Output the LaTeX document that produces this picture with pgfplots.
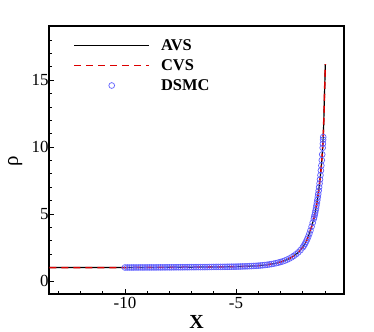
\documentclass[border=0pt]{standalone}
\usepackage{fontspec}
\setmainfont{Liberation Serif}
\usepackage{pgfplots}
\usepackage{pgfplotstable}
\pgfplotsset{compat=1.18}

\definecolor{cvsred}{RGB}{220,0,0}
\definecolor{dsmcblue}{RGB}{95,95,255}

% DSMC samples
\pgfplotstableread{
x y
-10.0 1.000
-9.9 1.001
-9.8 1.001
-9.7 1.002
-9.6 1.002
-9.5 1.003
-9.4 1.003
-9.3 1.004
-9.2 1.004
-9.1 1.005
-9.0 1.005
-8.9 1.006
-8.8 1.006
-8.7 1.007
-8.6 1.008
-8.5 1.008
-8.4 1.009
-8.3 1.010
-8.2 1.011
-8.1 1.012
-8.0 1.013
-7.9 1.014
-7.8 1.015
-7.7 1.016
-7.6 1.017
-7.5 1.018
-7.4 1.019
-7.3 1.020
-7.2 1.021
-7.1 1.023
-7.0 1.024
-6.9 1.025
-6.8 1.027
-6.7 1.028
-6.6 1.030
-6.5 1.031
-6.4 1.033
-6.3 1.035
-6.2 1.037
-6.1 1.039
-6.0 1.041
-5.9 1.043
-5.8 1.045
-5.7 1.047
-5.6 1.050
-5.5 1.052
-5.4 1.055
-5.3 1.058
-5.2 1.061
-5.1 1.064
-5.0 1.067
-4.9 1.071
-4.8 1.075
-4.7 1.080
-4.6 1.085
-4.5 1.091
-4.4 1.098
-4.3 1.106
-4.2 1.115
-4.1 1.126
-4.0 1.138
-3.9 1.152
-3.8 1.168
-3.7 1.186
-3.6 1.207
-3.5 1.231
-3.4 1.258
-3.3 1.289
-3.2 1.324
-3.1 1.364
-3.0 1.41
-2.9 1.46
-2.8 1.52
-2.7 1.59
-2.6 1.67
-2.5 1.76
-2.4 1.87
-2.3 1.99
-2.2 2.13
-2.1 2.30
-2.0 2.50
-1.95 2.62
-1.90 2.76
-1.85 2.92
-1.80 3.10
-1.75 3.30
-1.70 3.52
-1.65 3.77
-1.60 4.05
-1.55 4.34
-1.50 4.64
-1.48 4.78
-1.46 4.93
-1.44 5.09
-1.42 5.26
-1.40 5.44
-1.38 5.63
-1.36 5.83
-1.34 6.04
-1.32 6.26
-1.30 6.49
-1.28 6.74
-1.26 7.00
-1.24 7.28
-1.22 7.58
-1.20 7.90
-1.18 8.25
-1.16 8.62
-1.14 9.02
-1.12 9.45
-1.10 9.95
-1.09 10.25
-1.08 10.55
-1.075 10.75
}\dsmc

% continuum solution (AVS and CVS coincide)
\pgfplotstableread{
x y
-13.4 1.000
-12.0 1.000
-10.0 1.000
-9.0 1.005
-8.0 1.013
-7.0 1.024
-6.0 1.041
-5.5 1.052
-5.0 1.067
-4.5 1.091
-4.0 1.138
-3.7 1.186
-3.4 1.258
-3.2 1.324
-3.0 1.41
-2.8 1.52
-2.6 1.67
-2.4 1.87
-2.2 2.13
-2.0 2.50
-1.9 2.76
-1.8 3.10
-1.7 3.52
-1.6 4.05
-1.5 4.64
-1.44 5.09
-1.38 5.63
-1.32 6.26
-1.26 7.00
-1.20 7.90
-1.16 8.62
-1.12 9.45
-1.09 10.25
-1.06 11.40
-1.03 13.20
-1.00 15.00
-0.98 16.20
}\avs

\begin{document}
\begin{tikzpicture}
\path[use as bounding box] (0,0) rectangle (374bp,332bp);
\begin{axis}[
  at={(49bp,38bp)}, anchor=south west,
  scale only axis, width=295bp, height=268bp,
  xmin=-13.42, xmax=-0.14, ymin=-0.98, ymax=19.05,
  xtick={-10,-5}, minor xtick={-13,-12,...,-1},
  ytick={0,5,10,15}, minor ytick={1,2,3,4,6,7,8,9,11,12,13,14,16,17,18},
  tick align=inside, tick pos=left,
  major tick length=5bp, minor tick length=3bp,
  every tick/.style={black, line width=0.7bp},
  axis line style={line width=1.9bp},
  /pgf/number format/assume math mode=true,
  ticklabel style={font=\fontsize{17}{20}\selectfont},
  yticklabel style={xshift=3bp},
  xlabel={\textbf{X}},
  xlabel style={at={(axis description cs:0.5,-0.105)}, anchor=center, font=\fontsize{20}{22}\selectfont},
  ylabel={ρ},
  ylabel style={at={(axis description cs:-0.115,0.496)}, anchor=center, font=\fontsize{21}{22}\selectfont},
  legend image code/.code={%
    \draw[mark repeat=2,mark phase=2,#1] plot coordinates {(0bp,0bp) (37.5bp,0bp) (75bp,0bp)};
    \path (84bp,0bp);},
  legend style={draw=none, fill=none, at={(axis description cs:0.072,0.965)}, anchor=north west,
    font=\bfseries\fontsize{16.5}{20}\selectfont, row sep=3.5bp,
    nodes={inner sep=2bp}},
  legend cell align=left,
]
\addplot[only marks, mark=o, mark size=2.9bp, dsmcblue, mark options={line width=0.7bp}, forget plot] table {\dsmc};
\addplot[black, line width=1.2bp, forget plot] table {\avs};
\addplot[draw=cvsred, line width=1.5bp, dash pattern=on 7bp off 5bp, forget plot] table {\avs};
\addlegendimage{draw=black, line width=1.2bp}
\addlegendentry{AVS}
\addlegendimage{draw=cvsred, line width=1.6bp, dash pattern=on 7bp off 5bp}
\addlegendentry{CVS}
\addlegendimage{only marks, mark=o, mark size=2.9bp, draw=dsmcblue, mark options={line width=0.7bp}}
\addlegendentry{DSMC}
\end{axis}
\end{tikzpicture}
\end{document}
